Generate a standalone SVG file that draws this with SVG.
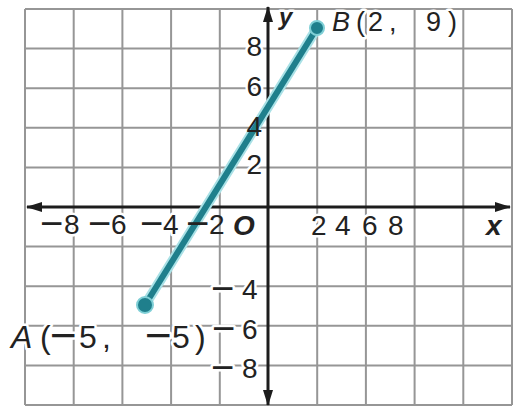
<svg xmlns="http://www.w3.org/2000/svg" width="513" height="409" viewBox="0 0 513 409">
<style>
.grid{stroke:#969696;stroke-width:2;fill:none}
.axis{stroke:#1c1c1c;stroke-width:3;fill:none}
.lbl{font-family:"Liberation Sans",Arial,sans-serif;font-size:28px;fill:#222;stroke:#fff;stroke-width:5;paint-order:stroke;stroke-linejoin:round}
.nohalo{stroke:none}
.var{font-weight:bold;font-style:italic}
.mn{font-size:40px}
.pt{font-family:"Liberation Sans",Arial,sans-serif;fill:#222;stroke:#fff;stroke-width:5;paint-order:stroke;stroke-linejoin:round}
.seg-halo{stroke:#a9e1e6;stroke-width:10;stroke-linecap:round}
.seg{stroke:#1f7f8c;stroke-width:6;stroke-linecap:round}
.dot{fill:#1f7f8c;stroke:#7fcfd6;stroke-width:2}
</style>
<defs>
<marker id="arr" markerUnits="userSpaceOnUse" markerWidth="16" markerHeight="12" refX="15" refY="6" orient="auto-start-reverse">
<path d="M0,1 L16,6 L0,11 Z" fill="#1c1c1c"/>
</marker>
</defs>
<rect width="513" height="409" fill="#fff"/>
<g id="grid" class="grid">
<path d="M25,9V405M73.7,9V405M122.4,9V405M171.1,9V405M219.8,9V405M317.2,9V405M365.9,9V405M414.6,9V405M463.3,9V405M512,9V405"/>
<path d="M25,9H512M25,48.6H512M25,88.2H512M25,127.8H512M25,167.4H512M25,246.6H512M25,286.2H512M25,325.8H512M25,365.4H512M25,405H512"/>
</g>
<g id="axes" class="axis">
<line x1="27" y1="207" x2="510" y2="207" marker-start="url(#arr)" marker-end="url(#arr)"/>
<line x1="268" y1="7" x2="268" y2="405" marker-start="url(#arr)" marker-end="url(#arr)"/>
</g>
<g id="tick-labels" class="lbl">
<text x="40" y="234"><tspan class="mn" dy="3">−</tspan><tspan x="64" dy="-3">8</tspan></text>
<text x="88" y="234"><tspan class="mn" dy="3">−</tspan><tspan x="111" dy="-3">6</tspan></text>
<text x="140" y="234"><tspan class="mn" dy="3">−</tspan><tspan x="163" dy="-3">4</tspan></text>
<text x="233" y="235" class="var">O</text>
<text x="311" y="235">2</text>
<text x="335" y="235">4</text>
<text x="362" y="235">6</text>
<text x="388" y="235">8</text>
<text x="486" y="235" class="var">x</text>
<text x="262" y="56" text-anchor="end">8</text>
<text x="262" y="96" text-anchor="end">6</text>
<text x="262" y="174" text-anchor="end">2</text>
<text x="211" y="299"><tspan class="mn" dy="3">−</tspan><tspan x="242" dy="-3">4</tspan></text>
<text x="212" y="339"><tspan class="mn" dy="3">−</tspan><tspan x="242" dy="-3">6</tspan></text>
<text x="211" y="378"><tspan class="mn" dy="3">−</tspan><tspan x="242" dy="-3">8</tspan></text>
<text x="279" y="25" class="var" font-size="24">y</text>
</g>
<g id="connectors">
<line class="seg-halo" x1="145" y1="305" x2="317" y2="28"/>
<line class="seg" x1="145" y1="305" x2="317" y2="28"/>
</g>
<g id="tick-labels-over" class="lbl nohalo">
<text x="186" y="234"><tspan class="mn" dy="3">−</tspan><tspan x="209" dy="-3">2</tspan></text>
<text x="262" y="136" text-anchor="end">4</text>
</g>
<g id="A">
<circle class="dot" cx="145" cy="305" r="8"/>
<text class="pt" y="348" font-size="32"><tspan x="11" font-style="italic">A</tspan><tspan x="40">(</tspan><tspan x="50" font-size="46" dy="3">−</tspan><tspan x="79" dy="-3">5</tspan><tspan x="102">,</tspan><tspan x="145" font-size="46" dy="3">−</tspan><tspan x="172" dy="-3">5</tspan><tspan x="195">)</tspan></text>
</g>
<g id="B">
<circle class="dot" cx="317" cy="28" r="7"/>
<text class="pt" y="31" font-size="27"><tspan x="332" font-style="italic">B</tspan><tspan x="356">(</tspan><tspan x="368">2</tspan><tspan x="389">,</tspan><tspan x="426">9</tspan><tspan x="448">)</tspan></text>
</g>
</svg>
